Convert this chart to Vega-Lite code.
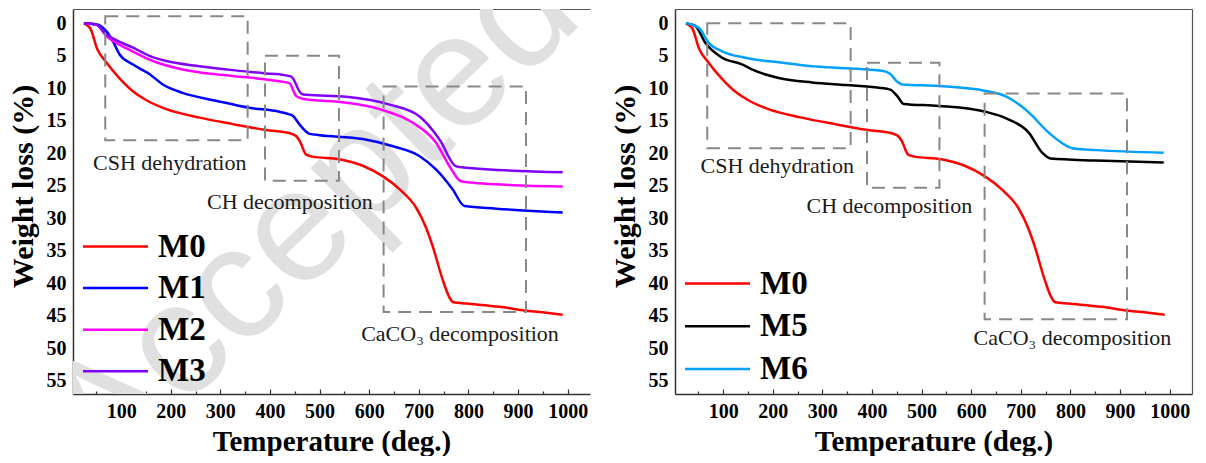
{
  "$schema": "https://vega.github.io/schema/vega-lite/v6.json",
  "padding": {"left": 8, "top": 9, "right": 4, "bottom": 0},
  "spacing": 20,
  "config": {
    "font": "Liberation Serif",
    "view": {"stroke": null},
    "axis": {
      "grid": false,
      "labelFont": "Liberation Serif",
      "labelFontSize": 20,
      "labelFontWeight": "bold",
      "labelColor": "black",
      "titleFont": "Liberation Serif",
      "titleFontWeight": "bold",
      "titleColor": "black",
      "domainColor": "#333333",
      "domainWidth": 1.5,
      "tickColor": "#333333",
      "tickWidth": 1.2
    },
    "legend": {
      "orient": "none",
      "title": null,
      "symbolType": "M-2.6,0H2.6",
      "symbolSize": 625,
      "symbolStrokeWidth": 2.5,
      "labelFont": "Liberation Serif",
      "labelFontSize": 33,
      "labelFontWeight": "bold",
      "labelColor": "black",
      "labelOffset": 26,
      "padding": 0,
      "rowPadding": 8
    }
  },
  "datasets": {
    "tga": [
      {"mix": "M0", "temp": 25, "loss": 0},
      {"mix": "M0", "temp": 38, "loss": 0.8},
      {"mix": "M0", "temp": 52, "loss": 4},
      {"mix": "M0", "temp": 68, "loss": 5.8},
      {"mix": "M0", "temp": 95, "loss": 8.3},
      {"mix": "M0", "temp": 123, "loss": 10.4},
      {"mix": "M0", "temp": 150, "loss": 11.8},
      {"mix": "M0", "temp": 191, "loss": 13.2},
      {"mix": "M0", "temp": 258, "loss": 14.5},
      {"mix": "M0", "temp": 325, "loss": 15.5},
      {"mix": "M0", "temp": 392, "loss": 16.4},
      {"mix": "M0", "temp": 440, "loss": 16.9},
      {"mix": "M0", "temp": 452, "loss": 17.3},
      {"mix": "M0", "temp": 460, "loss": 18.1},
      {"mix": "M0", "temp": 473, "loss": 20.2},
      {"mix": "M0", "temp": 486, "loss": 20.5},
      {"mix": "M0", "temp": 540, "loss": 20.9},
      {"mix": "M0", "temp": 587, "loss": 21.9},
      {"mix": "M0", "temp": 627, "loss": 23.5},
      {"mix": "M0", "temp": 661, "loss": 25.5},
      {"mix": "M0", "temp": 695, "loss": 28.4},
      {"mix": "M0", "temp": 715, "loss": 31.5},
      {"mix": "M0", "temp": 728, "loss": 34.3},
      {"mix": "M0", "temp": 748, "loss": 39.4},
      {"mix": "M0", "temp": 762, "loss": 42.2},
      {"mix": "M0", "temp": 770, "loss": 42.9},
      {"mix": "M0", "temp": 796, "loss": 43.1},
      {"mix": "M0", "temp": 863, "loss": 43.6},
      {"mix": "M0", "temp": 917, "loss": 44.2},
      {"mix": "M0", "temp": 957, "loss": 44.5},
      {"mix": "M0", "temp": 990, "loss": 44.8},

      {"mix": "M1", "temp": 25, "loss": 0},
      {"mix": "M1", "temp": 50, "loss": 0.15},
      {"mix": "M1", "temp": 70, "loss": 1.2},
      {"mix": "M1", "temp": 83, "loss": 2.7},
      {"mix": "M1", "temp": 97, "loss": 4.8},
      {"mix": "M1", "temp": 123, "loss": 6.3},
      {"mix": "M1", "temp": 157, "loss": 7.8},
      {"mix": "M1", "temp": 184, "loss": 9.4},
      {"mix": "M1", "temp": 224, "loss": 10.7},
      {"mix": "M1", "temp": 291, "loss": 11.9},
      {"mix": "M1", "temp": 359, "loss": 13},
      {"mix": "M1", "temp": 419, "loss": 13.6},
      {"mix": "M1", "temp": 439, "loss": 14},
      {"mix": "M1", "temp": 446, "loss": 14.2},
      {"mix": "M1", "temp": 459, "loss": 15.5},
      {"mix": "M1", "temp": 480, "loss": 17},
      {"mix": "M1", "temp": 500, "loss": 17.2},
      {"mix": "M1", "temp": 587, "loss": 17.8},
      {"mix": "M1", "temp": 648, "loss": 18.9},
      {"mix": "M1", "temp": 701, "loss": 20.4},
      {"mix": "M1", "temp": 735, "loss": 22.5},
      {"mix": "M1", "temp": 768, "loss": 25.5},
      {"mix": "M1", "temp": 792, "loss": 28.1},
      {"mix": "M1", "temp": 856, "loss": 28.5},
      {"mix": "M1", "temp": 990, "loss": 29.1},

      {"mix": "M2", "temp": 25, "loss": 0},
      {"mix": "M2", "temp": 50, "loss": 0.2},
      {"mix": "M2", "temp": 70, "loss": 1.95},
      {"mix": "M2", "temp": 90, "loss": 3},
      {"mix": "M2", "temp": 123, "loss": 4.3},
      {"mix": "M2", "temp": 164, "loss": 5.8},
      {"mix": "M2", "temp": 224, "loss": 7.1},
      {"mix": "M2", "temp": 291, "loss": 7.85},
      {"mix": "M2", "temp": 359, "loss": 8.35},
      {"mix": "M2", "temp": 419, "loss": 8.9},
      {"mix": "M2", "temp": 439, "loss": 9.2},
      {"mix": "M2", "temp": 453, "loss": 11.2},
      {"mix": "M2", "temp": 466, "loss": 11.6},
      {"mix": "M2", "temp": 554, "loss": 12.2},
      {"mix": "M2", "temp": 621, "loss": 13.2},
      {"mix": "M2", "temp": 688, "loss": 15.3},
      {"mix": "M2", "temp": 735, "loss": 18.4},
      {"mix": "M2", "temp": 762, "loss": 22},
      {"mix": "M2", "temp": 785, "loss": 24.3},
      {"mix": "M2", "temp": 822, "loss": 24.6},
      {"mix": "M2", "temp": 990, "loss": 25.1},

      {"mix": "M3", "temp": 25, "loss": 0},
      {"mix": "M3", "temp": 50, "loss": 0.2},
      {"mix": "M3", "temp": 70, "loss": 1.7},
      {"mix": "M3", "temp": 90, "loss": 2.6},
      {"mix": "M3", "temp": 123, "loss": 3.7},
      {"mix": "M3", "temp": 157, "loss": 5},
      {"mix": "M3", "temp": 191, "loss": 5.8},
      {"mix": "M3", "temp": 258, "loss": 6.6},
      {"mix": "M3", "temp": 325, "loss": 7.2},
      {"mix": "M3", "temp": 392, "loss": 7.7},
      {"mix": "M3", "temp": 419, "loss": 7.85},
      {"mix": "M3", "temp": 443, "loss": 8.2},
      {"mix": "M3", "temp": 463, "loss": 10.8},
      {"mix": "M3", "temp": 473, "loss": 11},
      {"mix": "M3", "temp": 554, "loss": 11.3},
      {"mix": "M3", "temp": 641, "loss": 12.5},
      {"mix": "M3", "temp": 701, "loss": 14.3},
      {"mix": "M3", "temp": 742, "loss": 17.9},
      {"mix": "M3", "temp": 775, "loss": 22},
      {"mix": "M3", "temp": 795, "loss": 22.2},
      {"mix": "M3", "temp": 990, "loss": 22.9},

      {"mix": "M5", "temp": 25, "loss": 0},
      {"mix": "M5", "temp": 44, "loss": 0.4},
      {"mix": "M5", "temp": 64, "loss": 3},
      {"mix": "M5", "temp": 98, "loss": 5.3},
      {"mix": "M5", "temp": 138, "loss": 6.3},
      {"mix": "M5", "temp": 158, "loss": 7.1},
      {"mix": "M5", "temp": 212, "loss": 8.4},
      {"mix": "M5", "temp": 279, "loss": 9.1},
      {"mix": "M5", "temp": 347, "loss": 9.5},
      {"mix": "M5", "temp": 414, "loss": 9.9},
      {"mix": "M5", "temp": 437, "loss": 10.2},
      {"mix": "M5", "temp": 451, "loss": 11.2},
      {"mix": "M5", "temp": 464, "loss": 12.4},
      {"mix": "M5", "temp": 535, "loss": 12.7},
      {"mix": "M5", "temp": 629, "loss": 13.6},
      {"mix": "M5", "temp": 676, "loss": 14.8},
      {"mix": "M5", "temp": 716, "loss": 16.8},
      {"mix": "M5", "temp": 743, "loss": 19.9},
      {"mix": "M5", "temp": 760, "loss": 20.8},
      {"mix": "M5", "temp": 851, "loss": 21.1},
      {"mix": "M5", "temp": 988, "loss": 21.4},

      {"mix": "M6", "temp": 25, "loss": 0},
      {"mix": "M6", "temp": 51, "loss": 0.7},
      {"mix": "M6", "temp": 71, "loss": 3},
      {"mix": "M6", "temp": 98, "loss": 4.3},
      {"mix": "M6", "temp": 145, "loss": 5.3},
      {"mix": "M6", "temp": 212, "loss": 6},
      {"mix": "M6", "temp": 279, "loss": 6.6},
      {"mix": "M6", "temp": 347, "loss": 6.9},
      {"mix": "M6", "temp": 420, "loss": 7.3},
      {"mix": "M6", "temp": 437, "loss": 7.8},
      {"mix": "M6", "temp": 451, "loss": 9.0},
      {"mix": "M6", "temp": 461, "loss": 9.4},
      {"mix": "M6", "temp": 535, "loss": 9.65},
      {"mix": "M6", "temp": 629, "loss": 10.4},
      {"mix": "M6", "temp": 669, "loss": 11.2},
      {"mix": "M6", "temp": 716, "loss": 13.7},
      {"mix": "M6", "temp": 756, "loss": 16.8},
      {"mix": "M6", "temp": 810, "loss": 19.3},
      {"mix": "M6", "temp": 851, "loss": 19.5},
      {"mix": "M6", "temp": 988, "loss": 19.9}
    ],
    "zones": [
      {"panel": "a", "t1": 68, "t2": 355, "w1": -1.1, "w2": 18.0},
      {"panel": "a", "t1": 390, "t2": 539, "w1": 5.0, "w2": 24.2},
      {"panel": "a", "t1": 629, "t2": 916, "w1": 9.7, "w2": 44.4},
      {"panel": "b", "t1": 68, "t2": 357, "w1": 0, "w2": 19.2},
      {"panel": "b", "t1": 390, "t2": 536, "w1": 6.05, "w2": 25.3},
      {"panel": "b", "t1": 627, "t2": 914, "w1": 10.8, "w2": 45.5}
    ],
    "notes": [
      {"panel": "a", "temp": 198, "loss": 22.5, "text": "CSH dehydration"},
      {"panel": "a", "temp": 440, "loss": 28.5, "text": "CH decomposition"},
      {"panel": "a", "temp": 783, "loss": 48.9, "text": "CaCO₃ decomposition"},
      {"panel": "b", "temp": 209, "loss": 23, "text": "CSH dehydration"},
      {"panel": "b", "temp": 435, "loss": 29.1, "text": "CH decomposition"},
      {"panel": "b", "temp": 804, "loss": 49.4, "text": "CaCO₃ decomposition"}
    ],
    "stamp": [
      {"temp": 485, "loss": 29.8, "text": "Accepted"}
    ]
  },
  "resolve": {"scale": {"color": "independent"}},
  "hconcat": [
    {
      "width": 517,
      "height": 385,
      "layer": [
        {
          "data": {"name": "stamp"},
          "mark": {"type": "text", "font": "Liberation Sans", "fontSize": 160, "angle": 316, "align": "center", "baseline": "middle", "color": "#e0e0e0", "clip": true},
          "encoding": {
            "x": {"field": "temp", "type": "quantitative", "axis": null},
            "y": {"field": "loss", "type": "quantitative", "axis": null},
            "text": {"field": "text"}
          }
        },
        {
          "data": {"name": "tga"},
          "transform": [{"filter": "indexof(['M0','M1','M2','M3'], datum.mix) >= 0"}],
          "mark": {"type": "line", "strokeWidth": 2.5, "interpolate": "monotone"},
          "encoding": {
            "x": {"field": "temp", "type": "quantitative", "title": "Temperature (deg.)",
              "scale": {"domain": [3, 1045], "nice": false, "zero": false},
              "axis": {"orient": "bottom", "values": [50, 100, 150, 200, 250, 300, 350, 400, 450, 500, 550, 600, 650, 700, 750, 800, 850, 900, 950, 1000],
                "format": "d",
                "labelExpr": "datum.value % 100 === 0 ? datum.label : ''",
                "tickSize": {"condition": {"test": "datum.value % 100 === 0", "value": -5}, "value": -3},
                "labelPadding": 12, "titleFontSize": 29, "titlePadding": 6}},
            "y": {"field": "loss", "type": "quantitative", "title": "Weight loss (%)",
              "scale": {"domain": [-2.2, 57], "nice": false, "zero": false, "reverse": true},
              "axis": {"orient": "left", "values": [0, 5, 10, 15, 20, 25, 30, 35, 40, 45, 50, 55], "ticks": false, "tickSize": 0, "labelPadding": 7, "titleFontSize": 30, "titlePadding": 8, "titleY": 177}},
            "color": {"field": "mix", "type": "nominal",
              "scale": {"domain": ["M0", "M1", "M2", "M3"], "range": ["#ff0000", "#0000ff", "#ff00ff", "#8000ff"]},
              "legend": {"legendX": 26, "legendY": 221, "rowPadding": 7.6}}
          }
        },
        {
          "data": {"name": "zones"},
          "transform": [{"filter": "datum.panel === 'a'"}],
          "mark": {"type": "rect", "filled": false, "stroke": "#888888", "strokeWidth": 2, "strokeDash": [13, 8]},
          "encoding": {
            "x": {"field": "t1", "type": "quantitative", "axis": {"orient": "top", "labels": false, "ticks": false, "title": null, "domainColor": "#555555", "domainWidth": 1.2}},
            "x2": {"field": "t2"},
            "y": {"field": "w1", "type": "quantitative", "axis": {"orient": "right", "labels": false, "ticks": false, "domain": false, "title": null}},
            "y2": {"field": "w2"}
          }
        },
        {
          "data": {"name": "notes"},
          "transform": [{"filter": "datum.panel === 'a'"}],
          "mark": {"type": "text", "font": "Liberation Serif", "fontSize": 22, "align": "center", "baseline": "alphabetic", "color": "#1a1a1a"},
          "encoding": {
            "x": {"field": "temp", "type": "quantitative", "axis": null},
            "y": {"field": "loss", "type": "quantitative", "axis": null},
            "text": {"field": "text"}
          }
        }
      ]
    },
    {
      "width": 517,
      "height": 385,
      "layer": [
        {
          "data": {"name": "tga"},
          "transform": [{"filter": "indexof(['M0','M5','M6'], datum.mix) >= 0"}],
          "mark": {"type": "line", "strokeWidth": 2.5, "interpolate": "monotone"},
          "encoding": {
            "x": {"field": "temp", "type": "quantitative", "title": "Temperature (deg.)",
              "scale": {"domain": [3, 1045], "nice": false, "zero": false},
              "axis": {"orient": "bottom", "values": [50, 100, 150, 200, 250, 300, 350, 400, 450, 500, 550, 600, 650, 700, 750, 800, 850, 900, 950, 1000],
                "format": "d",
                "labelExpr": "datum.value % 100 === 0 ? datum.label : ''",
                "tickSize": {"condition": {"test": "datum.value % 100 === 0", "value": -5}, "value": -3},
                "labelPadding": 12, "titleFontSize": 29, "titlePadding": 6}},
            "y": {"field": "loss", "type": "quantitative", "title": "Weight loss (%)",
              "scale": {"domain": [-2.2, 57], "nice": false, "zero": false, "reverse": true},
              "axis": {"orient": "left", "values": [0, 5, 10, 15, 20, 25, 30, 35, 40, 45, 50, 55], "ticks": false, "tickSize": 0, "labelPadding": 7, "titleFontSize": 30, "titlePadding": 8, "titleY": 177}},
            "color": {"field": "mix", "type": "nominal",
              "scale": {"domain": ["M0", "M5", "M6"], "range": ["#ff0000", "#000000", "#00a0ff"]},
              "legend": {"legendX": 26, "legendY": 258, "rowPadding": 8.7}}
          }
        },
        {
          "data": {"name": "zones"},
          "transform": [{"filter": "datum.panel === 'b'"}],
          "mark": {"type": "rect", "filled": false, "stroke": "#888888", "strokeWidth": 2, "strokeDash": [13, 8]},
          "encoding": {
            "x": {"field": "t1", "type": "quantitative", "axis": {"orient": "top", "labels": false, "ticks": false, "title": null, "domainColor": "#555555", "domainWidth": 1.2}},
            "x2": {"field": "t2"},
            "y": {"field": "w1", "type": "quantitative", "axis": {"orient": "right", "labels": false, "ticks": false, "title": null, "domainColor": "#555555", "domainWidth": 1.2}},
            "y2": {"field": "w2"}
          }
        },
        {
          "data": {"name": "notes"},
          "transform": [{"filter": "datum.panel === 'b'"}],
          "mark": {"type": "text", "font": "Liberation Serif", "fontSize": 22, "align": "center", "baseline": "alphabetic", "color": "#1a1a1a"},
          "encoding": {
            "x": {"field": "temp", "type": "quantitative", "axis": null},
            "y": {"field": "loss", "type": "quantitative", "axis": null},
            "text": {"field": "text"}
          }
        }
      ]
    }
  ]
}
